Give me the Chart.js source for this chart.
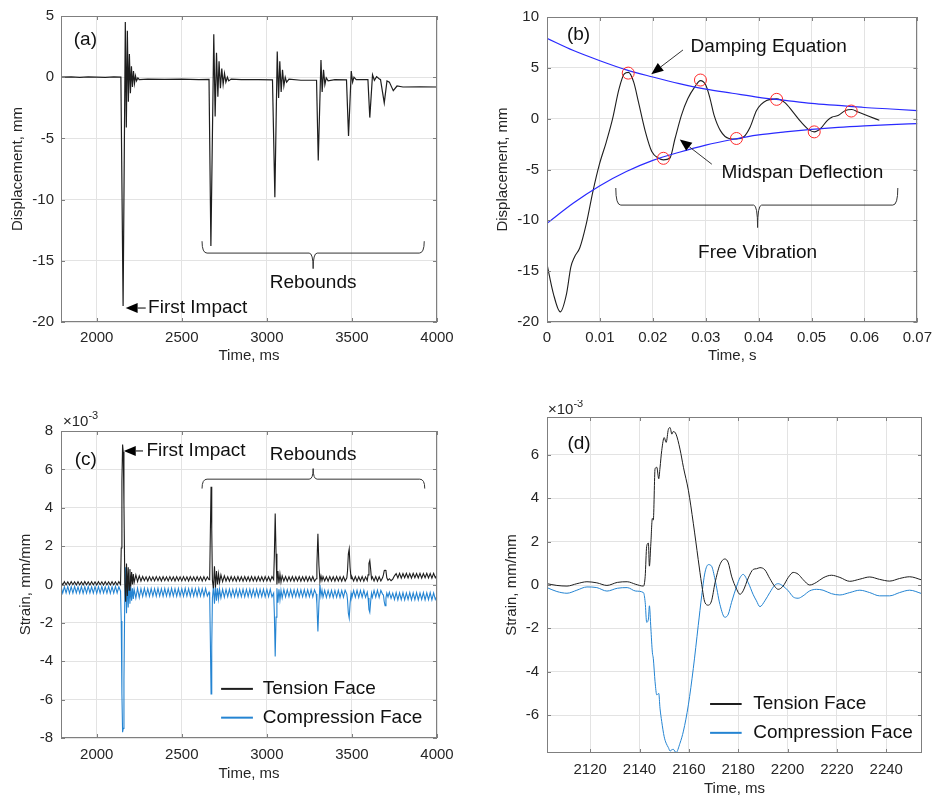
<!DOCTYPE html>
<html>
<head>
<meta charset="utf-8">
<script src="https://cdn.jsdelivr.net/npm/chart.js@4.4.0/dist/chart.umd.min.js"></script>
<style>
  html, body { margin: 0; padding: 0; background: #fff; }
  #wrap { position: relative; width: 939px; height: 798px; overflow: hidden; }
  canvas { position: absolute; }
</style>
</head>
<body>
<div id="wrap">
  <canvas id="chartA" width="470" height="365" style="left:0;top:0"></canvas>
  <canvas id="chartB" width="469" height="365" style="left:470px;top:0"></canvas>
  <canvas id="chartC" width="470" height="398" style="left:0;top:400px"></canvas>
  <canvas id="chartD" width="469" height="398" style="left:470px;top:400px"></canvas>
</div>
<script>
// (a) midspan displacement, whole test
const aTime = [1790, 1850, 1900, 1950, 2000, 2050, 2100, 2142, 2155, 2168, 2174, 2180, 2186, 2192, 2198, 2204, 2210,
  2216, 2222, 2228, 2234, 2242, 2250, 2300, 2400, 2500, 2600, 2660, 2671, 2688, 2696, 2704, 2712, 2719, 2727, 2735,
  2743, 2751, 2759, 2768, 2776, 2790, 2850, 2950, 3033, 3047, 3061, 3069, 3076, 3084, 3092, 3100, 3108, 3116, 3130,
  3200, 3292, 3302, 3318, 3325, 3333, 3341, 3349, 3360, 3400, 3468, 3480, 3496, 3504, 3512, 3525, 3594, 3605, 3621,
  3632, 3645, 3658, 3668, 3690, 3706, 3720, 3743, 3765, 3800, 3900, 4000];
const aDisp = [0, 0.02, -0.02, 0.02, 0, -0.02, 0.02, 0, -18.7, 4.5, -4.1, 3.8, -2.0, 1.9, -1.3, 0.9, -0.8,
  0.5, -0.5, 0.1, -0.3, -0.05, -0.2, -0.15, -0.17, -0.15, -0.2, -0.18, -13.8, 3.5, -3.2, 2.0, -1.6, 1.3, -0.9, 0.7,
  -0.6, 0.3, -0.4, 0.0, -0.3, -0.15, -0.2, -0.2, -0.22, -9.8, 2.1, -1.7, 1.3, -1.2, 0.6, -0.7, 0.0, -0.4, -0.15,
  -0.25, -0.25, -6.8, 1.4, -1.2, 0.6, -0.6, -0.05, -0.3, -0.2, -0.22, -4.8, 0.5, -0.4, 0.0, -0.2, -0.2, -3.3, 0.2,
  -0.25, 0.05, -0.1, -0.2, -2.1, -0.3, -0.4, -1.1, -0.72, -0.8, -0.78, -0.8];
const aXTicks = [2000, 2500, 3000, 3500, 4000];
const aYTicks = [-20, -15, -10, -5, 0, 5];

// (b) free vibration after first impact
const bTime = [0, 0.0012, 0.0025, 0.0037, 0.0045, 0.0052, 0.0062, 0.0074, 0.0087, 0.0099, 0.0112, 0.0124, 0.0136,
  0.0146, 0.0154, 0.0164, 0.0173, 0.0186, 0.0198, 0.0211, 0.022, 0.0232, 0.0242, 0.0254, 0.0266, 0.0279, 0.029, 0.03,
  0.0308, 0.0316, 0.0328, 0.0344, 0.0358, 0.0372, 0.0384, 0.0396, 0.0415, 0.0434, 0.0449, 0.0465, 0.048, 0.0496,
  0.0505, 0.0517, 0.053, 0.0539, 0.0551, 0.0564, 0.0576, 0.0588, 0.0607, 0.0628];
const bDeflection = [-14.3, -17.2, -19.0, -17.2, -14.6, -13.6, -12.7, -10.4, -7.1, -4.5, -2.3, 0.0, 2.9,
  4.4, 4.55, 3.57, 1.6, -1.3, -3.24, -3.9, -4.05, -3.9, -1.95, 0.33, 1.95, 3.1, 3.74, 3.3,
  2.0, 0.3, -1.2, -1.95, -2.0, -1.78, -0.81, 0.81, 1.79, 1.95, 1.6, 0.65, -0.32, -1.13,
  -1.3, -0.97, -0.16, 0.16, 0.33, 0.81, 0.9, 0.65, 0.26, -0.16];
const bEnvTime = [0, 0.005, 0.01, 0.015, 0.02, 0.025, 0.03, 0.035, 0.04, 0.045, 0.05, 0.055, 0.06, 0.065, 0.07];
const bEnvUpper = [7.9, 6.7, 5.7, 4.8, 4.1, 3.45, 2.9, 2.5, 2.1, 1.8, 1.5, 1.3, 1.1, 0.95, 0.8];
const bEnvLower = [-10.3, -8.3, -6.6, -5.2, -4.1, -3.3, -2.6, -2.05, -1.6, -1.3, -1.05, -0.85, -0.7, -0.58, -0.48];
const bPeakTime = [0.01535, 0.022, 0.029, 0.0358, 0.0434, 0.0505, 0.0575];
const bPeakDisp = [4.48, -3.9, 3.8, -1.95, 1.9, -1.3, 0.75];
const bXTicks = [0, 0.01, 0.02, 0.03, 0.04, 0.05, 0.06, 0.07];
const bYTicks = [-20, -15, -10, -5, 0, 5, 10];

// (c) strain, whole test (x 10^-3)
const cTime = [
  1790, 1800, 1810, 1820, 1830, 1840, 1850, 1860, 1870, 1880, 1890, 1900, 1910, 1920, 1930, 1940, 1950, 1960,
  1970, 1980, 1990, 2000, 2010, 2020, 2030, 2040, 2050, 2060, 2070, 2080, 2090, 2100, 2110, 2120, 2130, 2140,
  2144, 2148, 2152, 2156, 2160, 2165, 2170, 2175, 2180, 2185, 2190, 2195, 2200, 2205, 2210, 2215, 2220,
  2230, 2240, 2250, 2260, 2270, 2280, 2290, 2300, 2310, 2320, 2330, 2340, 2350, 2360, 2370, 2380, 2390, 2400, 2410, 2420, 2430, 2440,
  2450, 2460, 2470, 2480, 2490, 2500, 2510, 2520, 2530, 2540, 2550, 2560, 2570, 2580, 2590, 2600, 2610, 2620, 2630, 2640, 2650, 2660,
  2664, 2668, 2672, 2676, 2680, 2686, 2692, 2698, 2704, 2710, 2716, 2722,
  2730, 2740, 2750, 2760, 2770, 2780, 2790, 2800, 2810, 2820, 2830, 2840, 2850, 2860, 2870, 2880,
  2890, 2900, 2910, 2920, 2930, 2940, 2950, 2960, 2970, 2980, 2990, 3000, 3010, 3020, 3030, 3040,
  3044, 3049, 3054, 3059, 3065, 3071, 3077, 3083, 3090,
  3100, 3110, 3120, 3130, 3140, 3150, 3160, 3170, 3180, 3190, 3200, 3210, 3220, 3230, 3240, 3250, 3260, 3270, 3280, 3290,
  3294, 3300, 3306, 3312, 3318, 3324,
  3330, 3340, 3350, 3360, 3370, 3380, 3390, 3400, 3410, 3420, 3430, 3440, 3450, 3460, 3470,
  3474, 3479, 3484, 3489, 3495,
  3500, 3510, 3520, 3530, 3540, 3550, 3560, 3570, 3580, 3590,
  3595, 3600, 3605, 3610, 3615,
  3620, 3630, 3640, 3650, 3660, 3670, 3680,
  3685, 3690, 3695, 3700, 3705, 3712, 3720, 3730, 3740,
  3750, 3760, 3770, 3780, 3790, 3800, 3810, 3820, 3830, 3840, 3850, 3860, 3870, 3880, 3890, 3900,
  3910, 3920, 3930, 3940, 3950, 3960, 3970, 3980, 3990, 4000];
const cTension = [
  0.14, -0.03, 0.15, -0.02, 0.14, -0.03, 0.15, -0.01, 0.14, -0.03, 0.15, -0.02, 0.14, -0.03, 0.16, -0.02, 0.14, -0.03,
  0.15, -0.02, 0.14, -0.03, 0.15, -0.01, 0.14, -0.03, 0.15, -0.02, 0.14, -0.03, 0.15, -0.02, 0.14, -0.03, 0.15, 0.0,
  1.9, 5.4, 7.3, 6.9, 4.2, 0.1, -0.9, 1.1, -0.6, 0.9, -0.3, 0.8, -0.1, 0.65, 0.0, 0.55, 0.1,
  0.5, 0.15, 0.45, 0.18, 0.42, 0.2, 0.4, 0.18, 0.41, 0.2, 0.4, 0.19, 0.41, 0.2, 0.4, 0.18, 0.41, 0.2, 0.4, 0.19, 0.41, 0.2,
  0.4, 0.18, 0.41, 0.2, 0.4, 0.19, 0.41, 0.2, 0.4, 0.18, 0.41, 0.2, 0.4, 0.19, 0.41, 0.2, 0.4, 0.18, 0.41, 0.2, 0.4, 0.25,
  0.4, 2.8, 5.1, 2.9, 0.2, -0.2, 0.95, -0.15, 0.7, 0.0, 0.55, 0.1,
  0.5, 0.15, 0.45, 0.18, 0.4, 0.17, 0.41, 0.18, 0.4, 0.17, 0.41, 0.18, 0.4, 0.17, 0.41, 0.18,
  0.4, 0.17, 0.41, 0.18, 0.4, 0.17, 0.41, 0.18, 0.4, 0.17, 0.41, 0.18, 0.4, 0.17, 0.41, 0.25,
  1.5, 3.7, 1.6, 0.0, 0.7, 0.05, 0.55, 0.12, 0.45,
  0.18, 0.41, 0.17, 0.4, 0.18, 0.41, 0.17, 0.4, 0.18, 0.41, 0.17, 0.4, 0.18, 0.41, 0.17, 0.4, 0.18, 0.41, 0.17, 0.3,
  1.0, 2.65, 1.0, 0.15, 0.45, 0.2,
  0.41, 0.18, 0.4, 0.17, 0.41, 0.18, 0.4, 0.17, 0.41, 0.18, 0.4, 0.17, 0.41, 0.18, 0.35,
  0.7, 1.6, 1.85, 0.9, 0.3,
  0.4, 0.18, 0.41, 0.17, 0.4, 0.18, 0.41, 0.17, 0.4, 0.2,
  0.5, 1.1, 1.25, 0.8, 0.3,
  0.4, 0.18, 0.41, 0.17, 0.4, 0.18, 0.35,
  0.5, 0.72, 0.75, 0.7, 0.35, 0.22, 0.3, 0.2, 0.28,
  0.45, 0.57, 0.34, 0.58, 0.33, 0.57, 0.35, 0.58, 0.34, 0.57, 0.33, 0.58, 0.35, 0.57, 0.34, 0.58,
  0.33, 0.57, 0.35, 0.58, 0.34, 0.57, 0.33, 0.58, 0.35, 0.5];
const cCompression = [
  -0.1, -0.45, -0.12, -0.44, -0.1, -0.46, -0.11, -0.45, -0.1, -0.44, -0.12, -0.45, -0.1, -0.46, -0.11, -0.45, -0.1, -0.44,
  -0.12, -0.45, -0.1, -0.46, -0.11, -0.45, -0.1, -0.44, -0.12, -0.45, -0.1, -0.46, -0.11, -0.45, -0.1, -0.44, -0.12, -0.35,
  -1.9, -5.7, -7.7, -7.5, -5.0, -0.5, 0.9, -1.5, 0.4, -1.2, 0.1, -1.0, -0.1, -0.85, -0.2, -0.75, -0.25,
  -0.7, -0.2, -0.68, -0.22, -0.62, -0.2, -0.6, -0.22, -0.61, -0.21, -0.6, -0.22, -0.61, -0.2, -0.6, -0.22, -0.61, -0.21, -0.6, -0.22, -0.61, -0.2,
  -0.6, -0.22, -0.61, -0.21, -0.6, -0.22, -0.61, -0.2, -0.6, -0.22, -0.61, -0.21, -0.6, -0.22, -0.61, -0.2, -0.6, -0.22, -0.61, -0.21, -0.6, -0.4,
  -0.6, -3.0, -5.7, -3.2, -0.7, -0.1, -1.0, -0.1, -0.85, -0.2, -0.75, -0.25,
  -0.7, -0.25, -0.66, -0.26, -0.63, -0.25, -0.64, -0.26, -0.63, -0.25, -0.64, -0.26, -0.63, -0.25, -0.64, -0.26,
  -0.63, -0.25, -0.64, -0.26, -0.63, -0.25, -0.64, -0.26, -0.63, -0.25, -0.64, -0.26, -0.63, -0.25, -0.64, -0.45,
  -1.5, -3.75, -1.7, -0.2, -0.95, -0.25, -0.8, -0.3, -0.7,
  -0.27, -0.65, -0.28, -0.64, -0.27, -0.65, -0.28, -0.64, -0.27, -0.65, -0.28, -0.64, -0.27, -0.65, -0.28, -0.64, -0.27, -0.65, -0.28, -0.5,
  -1.0, -2.45, -1.0, -0.02, -0.6, -0.3,
  -0.66, -0.3, -0.67, -0.31, -0.66, -0.3, -0.67, -0.31, -0.66, -0.3, -0.67, -0.31, -0.66, -0.3, -0.5,
  -0.8, -1.5, -1.75, -1.0, -0.45,
  -0.67, -0.31, -0.66, -0.3, -0.67, -0.31, -0.66, -0.3, -0.67, -0.4,
  -0.7, -1.3, -1.45, -0.9, -0.45,
  -0.67, -0.31, -0.66, -0.3, -0.67, -0.31, -0.5,
  -0.55, -0.9, -1.1, -0.7, -0.45, -0.65, -0.4, -0.72, -0.45,
  -0.78, -0.42, -0.8, -0.43, -0.79, -0.42, -0.8, -0.44, -0.78, -0.42, -0.8, -0.43, -0.79, -0.42, -0.8, -0.44,
  -0.78, -0.42, -0.8, -0.43, -0.79, -0.42, -0.8, -0.44, -0.78, -0.6];
const cXTicks = [2000, 2500, 3000, 3500, 4000];
const cYTicks = [-8, -6, -4, -2, 0, 2, 4, 6, 8];

// (d) strain around first impact (x 10^-3)
const dTime = [2102.5, 2106.5, 2110.6, 2114.6, 2118.7, 2122.7, 2126.8, 2131, 2135, 2138.5,
  2141.6, 2142.3, 2142.9, 2143.6, 2144, 2144.6, 2145.2, 2145.6, 2146.3, 2147,
  2147.8, 2148.3, 2149, 2150, 2150.8, 2151.7, 2152.4, 2153.1, 2153.7, 2154.8,
  2156.4, 2157.8, 2159.8, 2161.8, 2163.8, 2165.2, 2166.5, 2167.9, 2169.2, 2170.6,
  2172.6, 2174.6, 2176, 2177.3, 2179.4, 2180.7, 2182, 2184.1, 2186.1, 2187.4,
  2188.8, 2190.8, 2192.8, 2194.9, 2196.2, 2198.2, 2200.3, 2202.3, 2204.3, 2206.3,
  2209, 2211.7, 2214.4, 2217.8, 2221.2, 2225.2, 2229.3, 2233.3, 2237.3, 2241.4,
  2245.4, 2249.5, 2254.5];
const dTension = [0.06, -0.02, -0.05, 0.06, 0.15, 0.1, -0.02, 0.12, 0.15, 0.03,
  -0.05, 0.4, 1.78, 1.93, 0.87, 1.93, 3.07, 3.0, 5.36, 5.43,
  4.9, 5.4, 6.2, 6.8, 6.58, 7.18, 7.26, 6.96, 7.08, 6.96,
  6.27, 5.43, 4.37, 2.85, 1.17, 0.03, -0.8, -0.93, -0.73, 0.1,
  0.94, 1.2, 1.02, 0.41, -0.2, -0.43, -0.27, 0.33, 0.72, 0.75,
  0.8, 0.7, 0.3, -0.08, -0.2, -0.05, 0.35, 0.58, 0.5, 0.25,
  0.0, 0.12, 0.33, 0.45, 0.35, 0.17, 0.27, 0.37, 0.26, 0.18,
  0.3, 0.38, 0.23];
const dCompression = [-0.12, -0.3, -0.38, -0.24, -0.09, -0.12, -0.28, -0.15, -0.12, -0.28,
  -0.35, -0.8, -1.72, -1.57, -0.96, -2.0, -3.1, -3.4, -4.46, -5.07,
  -5.0, -5.68, -6.3, -7.0, -7.3, -7.5, -7.66, -7.6, -7.58, -7.73,
  -7.3, -6.74, -5.53, -3.85, -1.87, -0.5, 0.56, 0.94, 0.87, 0.26,
  -0.9, -1.49, -1.34, -0.8, -0.05, 0.33, 0.49, 0.1, -0.45, -0.73,
  -1.0, -0.73, -0.35, 0.0, 0.06, -0.05, -0.27, -0.55, -0.61, -0.5,
  -0.27, -0.2, -0.24, -0.4, -0.46, -0.35, -0.24, -0.35, -0.5, -0.5,
  -0.35, -0.24, -0.4];
const dXTicks = [2120, 2140, 2160, 2180, 2200, 2220, 2240];
const dYTicks = [-6, -4, -2, 0, 2, 4, 6];

const FONT = '"Liberation Sans", Arial, Helvetica, sans-serif';
const TEXT = '#262626';
const GRID = '#e3e3e3';
const FRAME = '#7f7f7f';
const BLACK = '#1e1e1e';
const STRAIN_BLUE = '#2484d2';
const ENV_BLUE = '#2a2aff';

Chart.defaults.font.family = FONT;
Chart.defaults.font.size = 15;
Chart.defaults.color = TEXT;

const pts = (xs, ys) => {
  if (xs.length !== ys.length) console.error('length mismatch', xs.length, ys.length);
  return xs.map((x, i) => ({ x, y: ys[i] }));
};

// MATLAB-like box with inward ticks on all four sides
Chart.register({
  id: 'matlabBox',
  afterDatasetsDraw(chart) {
    const { ctx, chartArea: a, scales: { x, y } } = chart;
    ctx.save();
    ctx.strokeStyle = FRAME;
    ctx.lineWidth = 1;
    ctx.beginPath();
    x.ticks.forEach(t => {
      const p = Math.round(x.getPixelForValue(t.value)) + 0.5;
      ctx.moveTo(p, a.bottom); ctx.lineTo(p, a.bottom - 4);
      ctx.moveTo(p, a.top); ctx.lineTo(p, a.top + 4);
    });
    y.ticks.forEach(t => {
      const p = Math.round(y.getPixelForValue(t.value)) + 0.5;
      ctx.moveTo(a.left, p); ctx.lineTo(a.left + 4, p);
      ctx.moveTo(a.right, p); ctx.lineTo(a.right - 4, p);
    });
    ctx.stroke();
    ctx.strokeRect(Math.round(a.left) + 0.5, Math.round(a.top) + 0.5,
      Math.round(a.right - a.left) - 1, Math.round(a.bottom - a.top) - 1);
    ctx.restore();
  }
});

function note(ctx, str, x, y, align, size) {
  ctx.font = (size || 19) + 'px ' + FONT;
  ctx.fillStyle = '#111';
  ctx.textAlign = align || 'left';
  ctx.textBaseline = 'middle';
  ctx.fillText(str, x, y);
}

function arrow(ctx, x1, y1, x2, y2) {
  const ang = Math.atan2(y2 - y1, x2 - x1);
  const head = 12, half = 5;
  const bx = x2 - head * Math.cos(ang), by = y2 - head * Math.sin(ang);
  ctx.beginPath();
  ctx.moveTo(x1, y1);
  ctx.lineTo(bx, by);
  ctx.stroke();
  ctx.beginPath();
  ctx.moveTo(x2, y2);
  ctx.lineTo(bx + half * Math.sin(ang), by - half * Math.cos(ang));
  ctx.lineTo(bx - half * Math.sin(ang), by + half * Math.cos(ang));
  ctx.closePath();
  ctx.fill();
}

function brace(ctx, x1, x2, xc, yEnd, yMid, yTip) {
  const r = 5, t = 4;
  ctx.beginPath();
  ctx.moveTo(x1, yEnd);
  ctx.quadraticCurveTo(x1, yMid, x1 + r, yMid);
  ctx.lineTo(xc - t, yMid);
  ctx.quadraticCurveTo(xc, yMid, xc, yTip);
  ctx.quadraticCurveTo(xc, yMid, xc + t, yMid);
  ctx.lineTo(x2 - r, yMid);
  ctx.quadraticCurveTo(x2, yMid, x2, yEnd);
  ctx.stroke();
}

function exponent(chart, dx, dy) {
  const { ctx, chartArea: a } = chart;
  ctx.font = '15px ' + FONT;
  ctx.fillStyle = TEXT;
  ctx.textAlign = 'left';
  ctx.textBaseline = 'middle';
  ctx.fillText('\u00d710', a.left + dx, a.top + dy);
  const w = ctx.measureText('\u00d710').width;
  ctx.font = '11px ' + FONT;
  ctx.fillText('-3', a.left + dx + w, a.top + dy - 6);
}

function legendRow(chart, color, label, x1, x2, xt, yv) {
  const { ctx } = chart;
  const X = v => chart.scales.x.getPixelForValue(v);
  const y = chart.scales.y.getPixelForValue(yv);
  ctx.strokeStyle = color;
  ctx.lineWidth = 2;
  ctx.beginPath();
  ctx.moveTo(X(x1), y);
  ctx.lineTo(X(x2), y);
  ctx.stroke();
  note(ctx, label, X(xt), y, 'left', 19);
}

function options(ax) {
  return {
    responsive: false,
    animation: false,
    events: [],
    layout: { padding: ax.pad },
    plugins: { legend: { display: false }, tooltip: { enabled: false } },
    elements: { point: { radius: 0 }, line: { borderWidth: 1 } },
    scales: {
      x: {
        type: 'linear', min: ax.xMin, max: ax.xMax,
        afterBuildTicks: s => { s.ticks = ax.xTicks.map(v => ({ value: v })); },
        afterFit: s => { s.height = ax.xHeight; },
        grid: { color: GRID, drawTicks: false },
        border: { display: false },
        ticks: { padding: ax.xTickPad, autoSkip: false, maxRotation: 0, color: TEXT, callback: v => String(v) },
        title: { display: true, text: ax.xTitle, color: TEXT, padding: { top: 0, bottom: ax.xTitlePad } }
      },
      y: {
        type: 'linear', min: ax.yMin, max: ax.yMax,
        afterBuildTicks: s => { s.ticks = ax.yTicks.map(v => ({ value: v })); },
        afterFit: s => { s.width = ax.yWidth; },
        grid: { color: GRID, drawTicks: false },
        border: { display: false },
        ticks: { padding: ax.yTickPad, autoSkip: false, color: TEXT, callback: v => String(v) },
        title: { display: true, text: ax.yTitle, color: TEXT, padding: { top: ax.yTitlePad, bottom: 0 } }
      }
    }
  };
}

// (a)
new Chart(document.getElementById('chartA'), {
  type: 'line',
  data: {
    datasets: [{ data: pts(aTime, aDisp), borderColor: BLACK, borderWidth: 1.2, tension: 0 }]
  },
  options: options({
    pad: { left: 0, top: 14, right: 33, bottom: 0 },
    xMin: 1790, xMax: 4000, xTicks: aXTicks, xHeight: 43, xTickPad: 7, xTitle: 'Time, ms', xTitlePad: 0,
    yMin: -20, yMax: 5, yTicks: aYTicks, yWidth: 61, yTickPad: 7, yTitle: 'Displacement, mm', yTitlePad: 9
  }),
  plugins: [{
    id: 'notesA',
    afterDraw(chart) {
      const { ctx } = chart;
      const X = v => chart.scales.x.getPixelForValue(v);
      const Y = v => chart.scales.y.getPixelForValue(v);
      ctx.save();
      note(ctx, '(a)', X(1865), Y(3.08), 'left');
      ctx.strokeStyle = '#000';
      ctx.fillStyle = '#000';
      ctx.lineWidth = 1;
      arrow(ctx, X(2288), Y(-18.86), X(2170), Y(-18.86));
      note(ctx, 'First Impact', X(2302), Y(-18.86), 'left');
      ctx.strokeStyle = '#333';
      brace(ctx, X(2619), X(3925), X(3272), Y(-13.4), Y(-14.37), Y(-15.64));
      note(ctx, 'Rebounds', X(3272), Y(-16.8), 'center');
      ctx.restore();
    }
  }]
});

// (b)
new Chart(document.getElementById('chartB'), {
  type: 'line',
  data: {
    datasets: [
      { data: pts(bPeakTime, bPeakDisp), showLine: false, pointRadius: 6, pointStyle: 'circle',
        pointBorderColor: '#ff2a2a', pointBackgroundColor: 'rgba(0,0,0,0)', pointBorderWidth: 1 },
      { data: pts(bEnvTime, bEnvUpper), borderColor: ENV_BLUE, borderWidth: 1.2, cubicInterpolationMode: 'monotone' },
      { data: pts(bEnvTime, bEnvLower), borderColor: ENV_BLUE, borderWidth: 1.2, cubicInterpolationMode: 'monotone' },
      { data: pts(bTime, bDeflection), borderColor: BLACK, borderWidth: 1.1, cubicInterpolationMode: 'monotone' }
    ]
  },
  options: options({
    pad: { left: 0, top: 14, right: 16, bottom: 0 },
    xMin: 0, xMax: 0.07, xTicks: bXTicks, xHeight: 43, xTickPad: 7, xTitle: 'Time, s', xTitlePad: 0,
    yMin: -20, yMax: 10, yTicks: bYTicks, yWidth: 77, yTickPad: 8, yTitle: 'Displacement, mm', yTitlePad: 24
  }),
  plugins: [{
    id: 'notesB',
    afterDraw(chart) {
      const { ctx } = chart;
      const X = v => chart.scales.x.getPixelForValue(v);
      const Y = v => chart.scales.y.getPixelForValue(v);
      ctx.save();
      note(ctx, '(b)', X(0.00377), Y(8.22), 'left');
      note(ctx, 'Damping Equation', X(0.02714), Y(7.05), 'left');
      note(ctx, 'Midspan Deflection', X(0.033), Y(-5.29), 'left');
      note(ctx, 'Free Vibration', X(0.0398), Y(-13.2), 'center');
      ctx.strokeStyle = '#333';
      ctx.fillStyle = '#000';
      ctx.lineWidth = 1;
      arrow(ctx, X(0.0257), Y(6.76), X(0.0197), Y(4.38));
      arrow(ctx, X(0.03115), Y(-4.48), X(0.02509), Y(-2.04));
      brace(ctx, X(0.013), X(0.0663), X(0.0398), Y(-6.82), Y(-8.5), Y(-10.71));
      ctx.restore();
    }
  }]
});

// (c)
new Chart(document.getElementById('chartC'), {
  type: 'line',
  data: {
    datasets: [
      { data: pts(cTime, cTension), borderColor: BLACK, borderWidth: 1.1, tension: 0 },
      { data: pts(cTime, cCompression), borderColor: STRAIN_BLUE, borderWidth: 1.1, tension: 0 }
    ]
  },
  options: options({
    pad: { left: 0, top: 31, right: 33, bottom: 0 },
    xMin: 1790, xMax: 4000, xTicks: cXTicks, xHeight: 60, xTickPad: 8, xTitle: 'Time, ms', xTitlePad: 15,
    yMin: -8, yMax: 8, yTicks: cYTicks, yWidth: 61, yTickPad: 8, yTitle: 'Strain, mm/mm', yTitlePad: 17
  }),
  plugins: [{
    id: 'notesC',
    afterDraw(chart) {
      const { ctx } = chart;
      const X = v => chart.scales.x.getPixelForValue(v);
      const Y = v => chart.scales.y.getPixelForValue(v);
      ctx.save();
      exponent(chart, 2, -9);
      note(ctx, '(c)', X(1870.6), Y(6.51), 'left');
      ctx.strokeStyle = '#000';
      ctx.fillStyle = '#000';
      ctx.lineWidth = 1;
      arrow(ctx, X(2272), Y(6.96), X(2159), Y(6.96));
      note(ctx, 'First Impact', X(2292), Y(6.96), 'left');
      note(ctx, 'Rebounds', X(3272), Y(6.77), 'center');
      ctx.strokeStyle = '#333';
      brace(ctx, X(2619), X(3928), X(3272), Y(5.0), Y(5.49), Y(6.04));
      legendRow(chart, BLACK, 'Tension Face', 2731, 2918, 2976, -5.44);
      legendRow(chart, STRAIN_BLUE, 'Compression Face', 2731, 2918, 2976, -6.94);
      ctx.restore();
    }
  }]
});

// (d)
new Chart(document.getElementById('chartD'), {
  type: 'line',
  data: {
    datasets: [
      { data: pts(dTime, dTension), borderColor: BLACK, borderWidth: 1, cubicInterpolationMode: 'monotone' },
      { data: pts(dTime, dCompression), borderColor: STRAIN_BLUE, borderWidth: 1, cubicInterpolationMode: 'monotone' }
    ]
  },
  options: options({
    pad: { left: 0, top: 14, right: 17, bottom: 0 },
    xMin: 2102.5, xMax: 2254.5, xTicks: dXTicks, xHeight: 45, xTickPad: 8, xTitle: 'Time, ms', xTitlePad: 0,
    yMin: -7.75, yMax: 7.75, yTicks: dYTicks, yWidth: 77, yTickPad: 8, yTitle: 'Strain, mm/mm', yTitlePad: 33
  }),
  plugins: [{
    id: 'notesD',
    afterDraw(chart) {
      const { ctx } = chart;
      const X = v => chart.scales.x.getPixelForValue(v);
      const Y = v => chart.scales.y.getPixelForValue(v);
      ctx.save();
      exponent(chart, 1, -7);
      note(ctx, '(d)', X(2110.8), Y(6.5), 'left');
      legendRow(chart, BLACK, 'Tension Face', 2168.6, 2181.4, 2186.1, -5.49);
      legendRow(chart, STRAIN_BLUE, 'Compression Face', 2168.6, 2181.4, 2186.1, -6.82);
      ctx.restore();
    }
  }]
});
</script>
</body>
</html>
